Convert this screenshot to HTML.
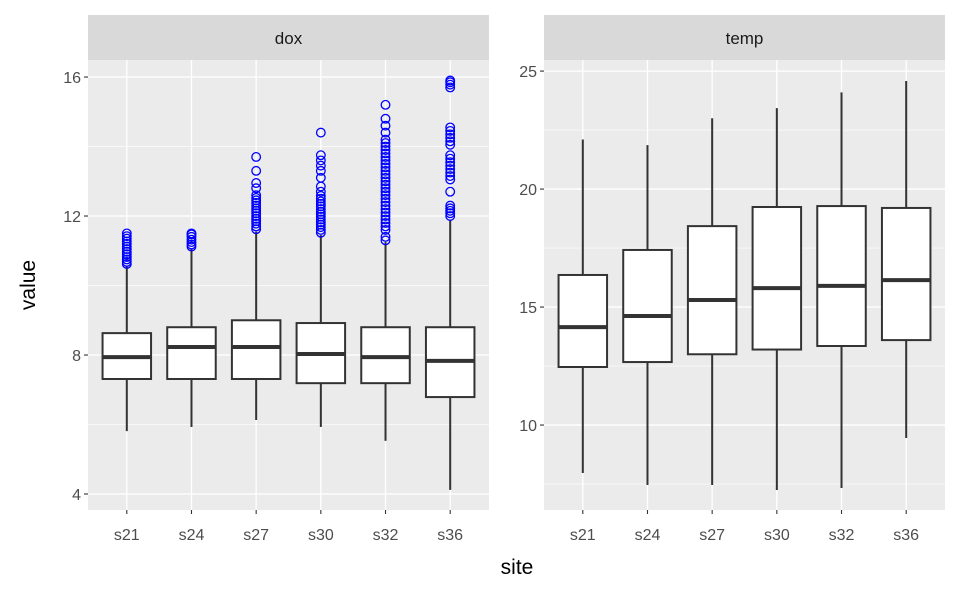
<!DOCTYPE html>
<html><head><meta charset="utf-8"><style>
body{margin:0;background:#fff;}
svg{display:block;font-family:"Liberation Sans",Arial,sans-serif;}
</style></head><body>
<svg id="chart" width="960" height="595" viewBox="0 0 960 595" xmlns="http://www.w3.org/2000/svg"></svg>
<script>
const categories = ["s21","s24","s27","s30","s32","s36"];
// [low whisker, q1, median, q3, high whisker]
const doxStats = [
  [5.81,7.31,7.94,8.63,10.55],
  [5.93,7.31,8.23,8.80,11.05],
  [6.13,7.31,8.23,9.00,11.55],
  [5.93,7.19,8.03,8.92,11.45],
  [5.53,7.19,7.94,8.80,11.25],
  [4.12,6.79,7.83,8.80,11.90]
];
const doxOutliers = [
  [10.62,10.68,10.75,10.82,10.9,10.97,11.05,11.12,11.2,11.27,11.35,11.42,11.5],
  [11.12,11.18,11.25,11.32,11.4,11.47,11.5],
  [11.62,11.7,11.78,11.85,11.92,12.0,12.08,12.15,12.22,12.3,12.38,12.45,12.52,12.6,12.8,12.95,13.3,13.7],
  [11.52,11.6,11.68,11.75,11.82,11.9,11.98,12.05,12.12,12.2,12.28,12.35,12.42,12.5,12.58,12.7,12.85,13.1,13.3,13.45,13.6,13.75,14.4],
  [11.3,11.4,11.6,11.7,11.8,11.9,12.0,12.1,12.2,12.3,12.4,12.5,12.6,12.7,12.8,12.9,13.0,13.1,13.2,13.3,13.4,13.5,13.6,13.7,13.8,13.9,14.0,14.1,14.2,14.4,14.6,14.8,15.2],
  [12.0,12.08,12.15,12.22,12.3,12.7,13.05,13.15,13.25,13.35,13.45,13.55,13.65,13.75,14.05,14.15,14.25,14.35,14.45,14.55,15.7,15.78,15.85,15.9]
];
const tempStats = [
  [7.97,12.46,14.15,16.36,22.1],
  [7.46,12.67,14.62,17.42,21.86],
  [7.46,13.0,15.3,18.43,23.0],
  [7.25,13.2,15.8,19.24,23.43],
  [7.33,13.35,15.9,19.28,24.1],
  [9.45,13.6,16.14,19.2,24.58]
];
const doxTicks = [4,8,12,16];
const doxMinor = [6,10,14];
const tempTicks = [10,15,20,25];
const tempMinor = [7.5,12.5,17.5,22.5];

const NS="http://www.w3.org/2000/svg";
const svg=document.getElementById('chart');
function mk(tag,attrs,parent){const e=document.createElementNS(NS,tag);for(const k in attrs)e.setAttribute(k,attrs[k]);(parent||svg).appendChild(e);return e;}

function panel(cfg){
  const {x0,x1,yTop,yBot,vTop,vBot,title,stats,outliers,ticks,minor,name}=cfg;
  const g=mk('g',{});
  
  
  const yS=v=>yTop+(vTop-v)/(vTop-vBot)*(yBot-yTop);
  const step=(x1-x0)/(categories.length+0.2);
  const xS=i=>x0+step*(0.6+i);
  const bg=mk('rect',{x:x0,y:yTop,width:x1-x0,height:yBot-yTop,fill:'#ebebeb'},g);
  
  
  minor.forEach(v=>mk('line',{x1:x0,x2:x1,y1:yS(v),y2:yS(v),stroke:'#fff','stroke-width':0.6},g));
  ticks.forEach(v=>{
    const l=mk('line',{x1:x0,x2:x1,y1:yS(v),y2:yS(v),stroke:'#fff','stroke-width':1.3},g);
    
    
    mk('line',{x1:x0-4,x2:x0,y1:yS(v),y2:yS(v),stroke:'#333','stroke-width':1.1},g);
    const t=mk('text',{x:x0-7,y:yS(v)+6,'text-anchor':'end','font-size':16,fill:'#4d4d4d'},g);
    t.textContent=v;
    
    
  });
  categories.forEach((c,i)=>{
    const x=xS(i);
    mk('line',{x1:x,x2:x,y1:yTop,y2:yBot,stroke:'#fff','stroke-width':1.3},g);
    mk('line',{x1:x,x2:x,y1:yBot,y2:yBot+4,stroke:'#333','stroke-width':1.1},g);
    const t=mk('text',{x:x,y:yBot+30,'text-anchor':'middle','font-size':16,fill:'#4d4d4d'},g);
    t.textContent=c;
    
    
  });
  const bw=step*0.75;
  stats.forEach((s,i)=>{
    const x=xS(i);
    const bx=mk('g',{},g);
    
    
    mk('line',{x1:x,x2:x,y1:yS(s[0]),y2:yS(s[1]),stroke:'#333','stroke-width':2},bx);
    mk('line',{x1:x,x2:x,y1:yS(s[3]),y2:yS(s[4]),stroke:'#333','stroke-width':2},bx);
    mk('rect',{x:x-bw/2,y:yS(s[3]),width:bw,height:yS(s[1])-yS(s[3]),fill:'#fff',stroke:'#333','stroke-width':2},bx);
    mk('line',{x1:x-bw/2,x2:x+bw/2,y1:yS(s[2]),y2:yS(s[2]),stroke:'#333','stroke-width':4},bx);
    if(outliers){
      outliers[i].forEach(v=>{
        const p=mk('circle',{cx:x,cy:yS(v),r:4.3,fill:'none',stroke:'#0000ff','stroke-width':1.3},bx);
        
        
      });
    }
  });
  const st=mk('rect',{x:x0,y:15,width:x1-x0,height:yTop-15,fill:'#d9d9d9'},g);
  
  
  const tt=mk('text',{x:(x0+x1)/2,y:44,'text-anchor':'middle','font-size':17,fill:'#1a1a1a'},g);
  tt.textContent=title;
  
  
}
panel({x0:88,x1:489,yTop:60,yBot:510,vTop:16.49,vBot:3.54,title:'dox',stats:doxStats,outliers:doxOutliers,ticks:doxTicks,minor:doxMinor,name:'dox'});
panel({x0:544,x1:945,yTop:60,yBot:510,vTop:25.47,vBot:6.40,title:'temp',stats:tempStats,outliers:null,ticks:tempTicks,minor:tempMinor,name:'temp'});
const yt=mk('text',{x:0,y:0,transform:'translate(35,285) rotate(-90)','text-anchor':'middle','font-size':21,fill:'#000'});
yt.textContent='value';


const xt=mk('text',{x:517,y:574,'text-anchor':'middle','font-size':21,fill:'#000'});
xt.textContent='site';


</script>
</body></html>
